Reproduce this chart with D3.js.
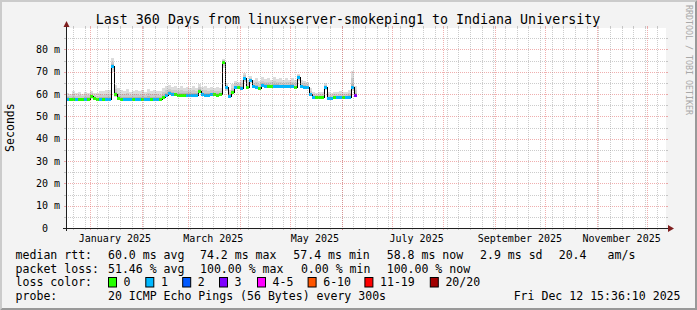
<!DOCTYPE html>
<html><head><meta charset="utf-8">
<script src="https://cdn.jsdelivr.net/npm/d3@7"></script>
<style>body{margin:0;background:#f3f3f3}svg{display:block}text{font-family:"DejaVu Sans Mono",monospace}</style>
</head><body><svg id="c" width="697" height="310"></svg>
<script>
// ---------- data ----------
const title = "Last 360 Days from linuxserver-smokeping1 to Indiana University";
const startTime = "2024-12-17T15:36:10Z";
const endTime = "2025-12-12T15:36:10Z";
const stepDays = 1.8;
const median = [57.9,57.9,57.8,57.9,57.8,57.9,57.9,58.0,59.2,58.2,57.9,57.9,57.9,57.9,58.0,72.5,60.0,58.3,57.9,57.8,
 57.9,57.8,57.9,57.9,57.8,57.9,57.9,58.0,57.9,57.8,57.9,57.9,58.8,59.8,60.6,60.2,59.9,59.8,59.7,59.8,
 59.6,59.6,59.7,59.8,61.4,59.9,59.8,59.8,59.9,59.9,59.8,59.9,74.5,63.0,59.3,61.0,63.2,63.1,62.9,67.0,
 63.0,66.2,63.4,63.2,62.6,64.0,63.6,63.6,63.6,63.5,63.6,63.5,63.6,63.5,63.6,63.5,63.0,67.5,63.4,63.3,
 63.2,60.0,58.8,58.6,58.7,58.7,63.3,58.3,58.4,58.5,58.5,58.5,58.6,58.6,58.7,63.0,59.5];
const smokeHi = [60.5,60.2,61.5,60.3,60.8,60.2,61.0,60.5,61.2,60.6,60.4,61.5,61.2,61.8,62.0,76.0,64.0,62.5,62.0,61.5,
 62.3,61.0,61.5,62.0,61.2,61.8,61.0,62.3,61.5,62.0,61.5,61.2,62.5,63.5,64.0,63.0,63.5,62.5,63.8,62.5,
 63.0,62.8,63.5,62.5,64.5,63.0,63.5,62.8,63.2,62.5,63.0,62.8,75.8,65.0,62.0,64.5,66.0,65.5,66.5,69.5,
 66.5,68.0,66.5,67.0,66.0,67.5,66.8,67.2,66.5,67.5,66.8,67.0,66.2,67.0,66.5,67.2,66.5,69.0,66.5,66.0,
 65.5,62.5,61.0,60.5,61.0,60.8,65.0,61.0,60.5,61.0,60.8,61.2,60.8,61.0,62.0,70.5,63.5];
const smokeLo = [57.0,57.1,56.9,57.0,57.0,57.1,57.0,57.2,58.0,57.3,57.0,57.1,57.0,57.0,57.2,70.0,58.8,57.4,57.0,56.9,
 57.0,57.0,57.1,57.0,56.9,57.0,57.1,57.2,57.0,56.9,57.0,57.0,57.9,58.9,59.6,59.3,59.0,58.9,58.8,58.9,
 58.7,58.8,58.8,58.9,60.3,59.0,58.9,58.9,59.0,59.0,58.9,59.0,71.5,61.5,58.4,60.0,62.1,62.2,62.0,65.5,
 62.1,64.8,62.5,62.3,61.7,63.0,62.7,62.7,62.6,62.6,62.7,62.6,62.7,62.6,62.7,62.6,62.1,65.8,62.5,62.4,
 62.3,59.0,57.9,57.7,57.8,57.8,62.0,57.4,57.5,57.6,57.6,57.6,57.7,57.7,57.8,61.5,58.6];
const lossCount = [1,0,0,1,0,0,1,0,0,0,0,1,0,1,1,1,0,0,0,1,
 1,1,0,1,1,0,1,1,0,1,1,0,0,1,1,1,0,0,0,0,
 1,1,1,1,0,1,1,1,1,0,0,0,0,1,1,0,1,0,1,1,
 0,1,1,1,0,1,1,0,0,1,1,1,1,1,1,1,0,1,1,1,
 1,1,1,0,0,0,1,1,1,0,1,1,0,1,1,1,3];
const yTicks = [0,10,20,30,40,50,60,70,80];
const yMinorTicks = [5,15,25,35,45,55,65,75,85];
const yMax = 89.6;
const monthLabels = ["January 2025","March 2025","May 2025","July 2025","September 2025","November 2025"];
const lossLabels = ["0","1","2","3","4-5","6-10","11-19","20/20"];
const lossColors = ["#26ff00","#00b8ff","#0059ff","#7e00ff","#ff00ff","#ff5500","#ff0000","#a10000"];
const statRtt = ["median rtt:","60.0 ms avg","74.2 ms max","57.4 ms min","58.8 ms now","2.9 ms sd","20.4","am/s"];
const statLoss = ["packet loss:","51.46 % avg","100.00 % max","0.00 % min","100.00 % now"];
const probeText = ["probe:","20 ICMP Echo Pings (56 Bytes) every 300s","Fri Dec 12 15:36:10 2025"];
const yUnit = "Seconds";
const sideText = "RRDTOOL / TOBI OETIKER";

// ---------- layout ----------
const W=697,H=310,X0=66,X1=666,Y0=228,Y1=28;
const svg=d3.select("#c");
const t0=new Date(startTime), t1=new Date(endTime);
const x=d3.scaleUtc().domain([t0,t1]).range([X0,X1]);
const y=d3.scaleLinear().domain([0,yMax]).range([Y0,Y1]);
const DAY=864e5;
const tAt=i=>new Date(+t0+i*stepDays*DAY);

// background & shades
svg.append("rect").attr("width",W).attr("height",H).attr("fill","#f3f3f3");
svg.append("path").attr("d",`M0,0H${W}L${W-2},2H2V${H-2}L0,${H}Z`).attr("fill","#cbcbcb");
svg.append("path").attr("d",`M${W},0V${H}H0L2,${H-2}H${W-2}V2Z`).attr("fill","#999999");
svg.append("rect").attr("x",X0).attr("y",Y1).attr("width",X1-X0).attr("height",Y0-Y1).attr("fill","#fff");

// data
const data=median.map((m,i)=>({t:tAt(i),m,hi:smokeHi[i],lo:smokeLo[i],loss:lossCount[i]}));
const ext=data.concat([{...data[data.length-1],t:tAt(data.length)}]);
const area=(f0,f1)=>d3.area().curve(d3.curveStepAfter).x(d=>x(d.t)).y0(d=>y(f0(d))).y1(d=>y(f1(d)));
const g=svg.append("g").attr("shape-rendering","crispEdges");
g.append("path").attr("d",area(d=>d.lo,d=>d.hi)(ext)).attr("fill","#dcdcdc");
g.append("path").attr("d",area(d=>d.lo+(d.m-d.lo)*0.3,d=>d.m+(d.hi-d.m)*0.55)(ext)).attr("fill","#cacaca");
g.append("path").attr("d",area(d=>d.m-(d.m-d.lo)*0.4,d=>d.m+(d.hi-d.m)*0.22)(ext)).attr("fill","#b4b4b4");
g.append("path").attr("d",d3.line().curve(d3.curveStepAfter).x(d=>x(d.t)).y(d=>Math.round(y(d.m))+0.5)(ext))
 .attr("fill","none").attr("stroke","#000").attr("stroke-width",1);
const cls=n=>n<=3?n:n<=5?4:n<=10?5:n<=19?6:7;
g.selectAll("rect.med").data(data).join("rect")
 .attr("x",d=>x(d.t)).attr("width",(d,i)=>x(tAt(i+1))-x(d.t))
 .attr("y",d=>Math.round(y(d.m))-1).attr("height",3)
 .attr("fill",d=>lossColors[cls(d.loss)]);

// grid (on top, translucent)
const gridC="rgba(143,143,143,0.46)", mgridC="rgba(222,80,80,0.46)";
const gg=svg.append("g").attr("shape-rendering","crispEdges");
function hline(v,c){const yy=Math.round(y(v))+0.5;
 gg.append("line").attr("x1",X0).attr("x2",X1).attr("y1",yy).attr("y2",yy).attr("stroke",c).attr("stroke-dasharray","1,1");
 gg.append("line").attr("x1",X0-2).attr("x2",X0).attr("y1",yy).attr("y2",yy).attr("stroke",c);
 gg.append("line").attr("x1",X1).attr("x2",X1+2).attr("y1",yy).attr("y2",yy).attr("stroke",c);}
function vline(t,c){const xx=Math.round(x(t))+0.5;
 gg.append("line").attr("x1",xx).attr("x2",xx).attr("y1",Y1).attr("y2",Y0).attr("stroke",c).attr("stroke-dasharray","1,1");
 gg.append("line").attr("x1",xx).attr("x2",xx).attr("y1",Y0).attr("y2",Y0+2).attr("stroke",c);
 gg.append("line").attr("x1",xx).attr("x2",xx).attr("y1",Y1-2).attr("y2",Y1).attr("stroke",c);}
yMinorTicks.forEach(v=>hline(v,gridC));
yTicks.filter(v=>v>0).forEach(v=>hline(v,mgridC));
d3.utcSunday.range(t0,t1).forEach(t=>vline(t,gridC));
d3.utcMonth.range(t0,t1).forEach(t=>vline(t,mgridC));

// axes
svg.append("line").attr("x1",63).attr("x2",668).attr("y1",Y0+0.5).attr("y2",Y0+0.5).attr("stroke","#1f1f1f");
svg.append("path").attr("d",`M668,${Y0-3}L674,${Y0+0.5}L668,${Y0+4}Z`).attr("fill","#7f1f1f");
svg.append("line").attr("x1",X0+0.5).attr("x2",X0+0.5).attr("y1",Y0+3).attr("y2",26).attr("stroke","#1f1f1f");
svg.append("path").attr("d",`M${X0-2.5},27L${X0+0.5},21L${X0+3.5},27Z`).attr("fill","#7f1f1f");

// y labels
const axisFont=10, cw=axisFont*0.602;
svg.selectAll("text.yl").data(yTicks).join("text")
 .attr("x",d=>d===0?60-2*cw:60).attr("y",d=>y(d)+3.6).attr("text-anchor","end")
 .attr("font-size",axisFont).attr("fill","#000").text(d=>d===0?"0":d+" m");

// x labels (centered mid-month, every 2 months)
const labMonths=d3.utcMonth.every(2).range(new Date("2025-01-01T00:00:00Z"),t1);
svg.selectAll("text.xl").data(labMonths).join("text")
 .attr("x",d=>x(new Date(+d+15*DAY))).attr("y",241.5).attr("text-anchor","middle")
 .attr("font-size",axisFont).attr("fill","#000").text((d,i)=>monthLabels[i]);

// title
svg.append("text").attr("x",348).attr("y",24.2).attr("text-anchor","middle").attr("font-size",13.3).attr("fill","#000").text(title);
// unit
svg.append("text").attr("transform","translate(14.2,127.6) rotate(-90)").attr("text-anchor","middle").attr("font-size",11.55).attr("fill","#000").text(yUnit);
// side text
svg.append("text").attr("transform","translate(685.6,5) rotate(90)").attr("font-size",8.3).attr("fill","#a8a8a8").text(sideText);

// legend
const lf=11.55;
const rttX=[15.6,108,200,293.3,386.7,480,558.7,607.6];
statRtt.forEach((s,i)=>svg.append("text").attr("x",rttX[i]).attr("y",258.5).attr("font-size",lf).attr("fill","#000").text(s));
const lossX=[15.6,108,200,300.9,386.7];
statLoss.forEach((s,i)=>svg.append("text").attr("x",lossX[i]).attr("y",272.5).attr("font-size",lf).attr("fill","#000").text(s));
svg.append("text").attr("x",15.6).attr("y",285.9).attr("font-size",lf).attr("fill","#000").text("loss color:");
const boxX=[108,145.3,182.2,219,257,307.6,364.4,429.8];
lossLabels.forEach((s,i)=>{
 svg.append("rect").attr("x",boxX[i]+0.5).attr("y",277.5).attr("width",8).attr("height",9.5).attr("fill",lossColors[i]).attr("stroke","#000").attr("stroke-width",1);
 svg.append("text").attr("x",boxX[i]+15.6).attr("y",285.9).attr("font-size",lf).attr("fill","#000").text(s);
});
svg.append("text").attr("x",15.6).attr("y",299.9).attr("font-size",lf).attr("fill","#000").text(probeText[0]);
svg.append("text").attr("x",108).attr("y",299.9).attr("font-size",lf).attr("fill","#000").text(probeText[1]);
svg.append("text").attr("x",680.5).attr("y",299.9).attr("text-anchor","end").attr("font-size",lf).attr("fill","#000").text(probeText[2]);
</script></body></html>
